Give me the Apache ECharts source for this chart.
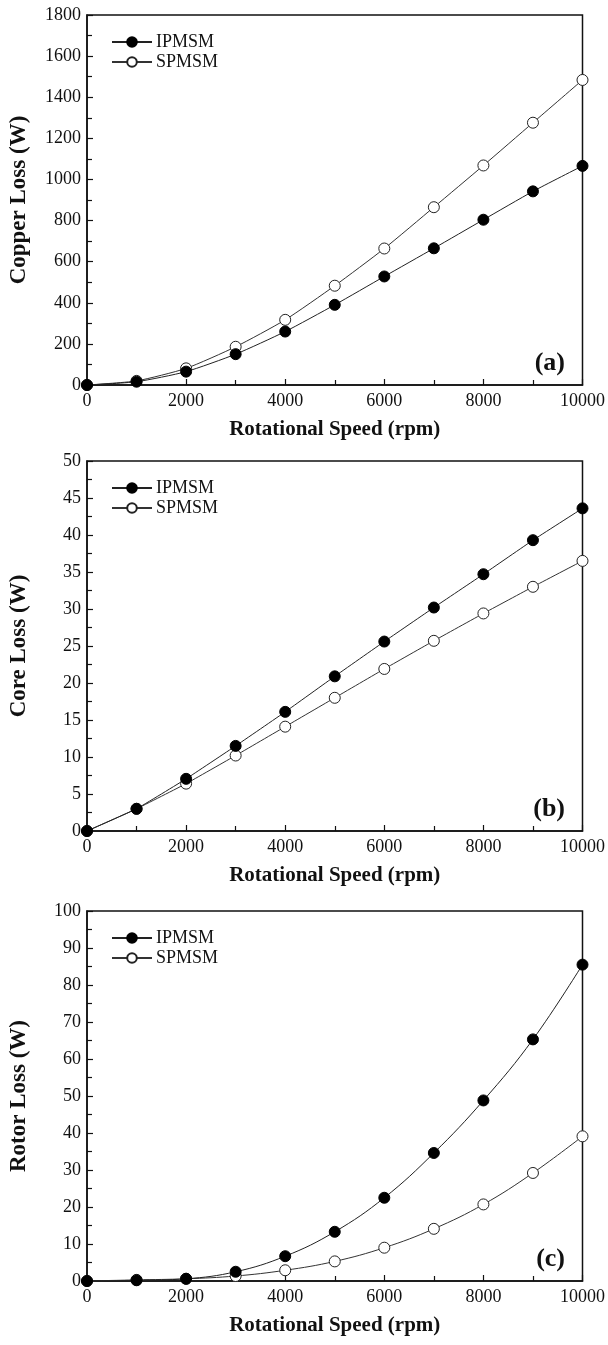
<!DOCTYPE html>
<html><head><meta charset="utf-8">
<script src="https://cdn.jsdelivr.net/npm/echarts@6/dist/echarts.min.js"></script>
<style>html,body{margin:0;padding:0;background:#fff}#c{width:608px;height:1345px}</style>
</head><body><div id="c"></div>
<script>
var speeds = [0,1000,2000,3000,4000,5000,6000,7000,8000,9000,10000];
var copperIPMSM = [0,16,65,150,260,390,528,665,804,942,1066];
var copperSPMSM = [0,20,81,186,317,483,664,865,1068,1276,1484];
var coreIPMSM = [0,3.0,7.05,11.5,16.1,20.9,25.6,30.2,34.7,39.3,43.6];
var coreSPMSM = [0,3.0,6.4,10.2,14.1,18.0,21.9,25.7,29.4,33.0,36.5];
var rotorIPMSM = [0,0.2,0.6,2.5,6.7,13.3,22.5,34.6,48.8,65.3,85.5];
var rotorSPMSM = [0,0.3,0.6,1.35,2.9,5.3,9.0,14.1,20.7,29.2,39.1];
var panels = [
  {label:'(a)', yname:'Copper Loss (W)', ymax:1800, yint:200, ip:copperIPMSM, sp:copperSPMSM, smooth:0.2},
  {label:'(b)', yname:'Core Loss (W)', ymax:50, yint:5, ip:coreIPMSM, sp:coreSPMSM, smooth:0.1},
  {label:'(c)', yname:'Rotor Loss (W)', ymax:100, yint:10, ip:rotorIPMSM, sp:rotorSPMSM, smooth:0.4}
];
var tops = [15, 461, 911];
var H = 370;
var FONT = '"Liberation Serif","Times New Roman",serif';
var plain = function(v){return String(v);};
var grids=[],xAxes=[],yAxes=[],series=[],legends=[],titles=[];
panels.forEach(function(p,i){
  grids.push({left:83,right:25,top:tops[i],height:H,show:true,borderColor:'#111',borderWidth:1.5,backgroundColor:'transparent'});
  xAxes.push({type:'value',gridIndex:i,min:0,max:10000,interval:2000,
    name:'Rotational Speed (rpm)',nameLocation:'middle',nameGap:34,
    nameTextStyle:{fontFamily:FONT,fontWeight:'bold',fontSize:21,color:'#111'},
    axisLine:{show:true,onZero:false,lineStyle:{color:'#111',width:1.5}},
    axisTick:{show:true,inside:true,length:6,lineStyle:{color:'#111',width:1.2}},
    minorTick:{show:true,splitNumber:2,length:5,lineStyle:{color:'#111',width:1.2}},
    splitLine:{show:false},
    axisLabel:{fontFamily:FONT,fontSize:18,color:'#111',margin:7,formatter:plain}});
  yAxes.push({type:'value',gridIndex:i,min:0,max:p.ymax,interval:p.yint,
    name:p.yname,nameLocation:'middle',nameGap:56,
    nameTextStyle:{fontFamily:FONT,fontWeight:'bold',fontSize:23,color:'#111'},
    axisLine:{show:true,onZero:false,lineStyle:{color:'#111',width:1.5}},
    axisTick:{show:true,inside:true,length:6,lineStyle:{color:'#111',width:1.2}},
    minorTick:{show:true,splitNumber:2,length:5,lineStyle:{color:'#111',width:1.2}},
    splitLine:{show:false},
    axisLabel:{fontFamily:FONT,fontSize:18,color:'#111',margin:6,formatter:plain}});
  var ipData = speeds.map(function(s,k){return [s,p.ip[k]];});
  var spData = speeds.map(function(s,k){return [s,p.sp[k]];});
  series.push({name:'IPMSM',type:'line',xAxisIndex:i,yAxisIndex:i,data:ipData,smooth:p.smooth,
    symbol:'circle',symbolSize:11,itemStyle:{color:'#000',borderColor:'#000',borderWidth:1},
    lineStyle:{color:'#222',width:1},clip:false,z:3});
  series.push({name:'SPMSM',type:'line',xAxisIndex:i,yAxisIndex:i,data:spData,smooth:p.smooth,
    symbol:'circle',symbolSize:11,itemStyle:{color:'#fff',borderColor:'#222',borderWidth:1},
    lineStyle:{color:'#333',width:1},clip:false,z:2});
  legends.push({left:106,top:tops[i]+13,orient:'vertical',itemWidth:40,itemHeight:12,itemGap:2,
    data:[{name:'IPMSM'},{name:'SPMSM'}],
    textStyle:{fontFamily:FONT,fontSize:18,color:'#111',padding:[0,0,0,-1]}});
  titles.push({text:p.label,right:38,top:tops[i]+H-40,
    textStyle:{fontFamily:FONT,fontWeight:'bold',fontSize:26,color:'#111'}});
});
var chart = echarts.init(document.getElementById('c'),null,{renderer:'canvas'});
chart.setOption({animation:false,backgroundColor:'#fff',title:titles,grid:grids,xAxis:xAxes,yAxis:yAxes,legend:legends,series:series});
</script></body></html>
